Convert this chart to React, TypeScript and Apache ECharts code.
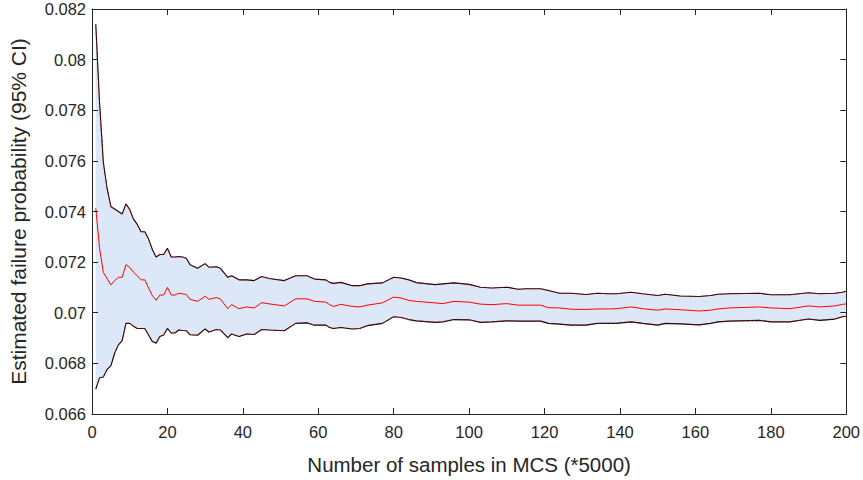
import React, { useEffect, useRef } from "react";
import * as echarts from "echarts";

const samples = [1,2,3,4,5,6,7,8,9,10,11,12,13,14,15,16,17,18,19,20,21,22,23,24,25,26,28,30,31,33,34,36,37,39,41,43,45,47,51,54,57,59,62,63,64,66,69,71,73,77,80,82,84,86,91,93,96,100,103,106,110,113,115,119,121,124,127,131,134,137,139,143,146,150,152,156,161,164,166,169,177,180,182,185,190,193,197,199,200];

const upperCI = [0.0814,0.0783,0.07595,0.07491,0.0742,0.0741,0.074,0.0739,0.0743,0.07408,0.0737,0.07349,0.0732,0.0732,0.07291,0.0725,0.0722,0.0723,0.0723,0.07255,0.0722,0.0722,0.07222,0.0722,0.07215,0.0719,0.07176,0.07194,0.0718,0.07182,0.07176,0.0714,0.07146,0.0713,0.0713,0.07127,0.07143,0.07135,0.07127,0.07146,0.07146,0.07133,0.0713,0.0712,0.07116,0.0712,0.07107,0.07107,0.07114,0.07118,0.0714,0.07137,0.0713,0.07119,0.07111,0.07114,0.07118,0.07112,0.07101,0.07098,0.07101,0.07093,0.07095,0.07095,0.07088,0.07077,0.07077,0.07072,0.07077,0.07075,0.07075,0.07081,0.07075,0.07068,0.07073,0.07066,0.07064,0.07068,0.07073,0.07075,0.07077,0.07071,0.07071,0.07071,0.07079,0.07075,0.07077,0.07081,0.07085];

const meanEst = [0.07413,0.07257,0.0716,0.07135,0.0711,0.07127,0.0714,0.0714,0.0719,0.07179,0.0716,0.07146,0.0713,0.0713,0.07098,0.07068,0.07049,0.0707,0.0707,0.071,0.0707,0.0707,0.07077,0.07075,0.07072,0.07053,0.07045,0.07065,0.07053,0.0706,0.07055,0.07016,0.07032,0.07016,0.07023,0.07019,0.0704,0.07035,0.07027,0.07055,0.07055,0.07045,0.07042,0.07032,0.07025,0.07033,0.07025,0.07023,0.0703,0.07039,0.07062,0.07058,0.07049,0.07045,0.07039,0.07036,0.07045,0.07042,0.07034,0.07032,0.07036,0.0703,0.0703,0.0703,0.0702,0.07019,0.07014,0.07013,0.07015,0.07015,0.07016,0.07023,0.07016,0.0701,0.07015,0.07012,0.07007,0.0701,0.07015,0.07019,0.07023,0.07019,0.07018,0.07016,0.07027,0.07023,0.07027,0.07033,0.07035];

const lowerCI = [0.06698,0.06743,0.06746,0.06776,0.0679,0.0684,0.06873,0.0689,0.06958,0.06958,0.06947,0.06938,0.06938,0.06938,0.06912,0.06886,0.0688,0.06906,0.06912,0.06938,0.0692,0.0692,0.06932,0.0693,0.06929,0.06913,0.06911,0.06936,0.06924,0.06934,0.06932,0.06902,0.06916,0.06906,0.06916,0.06914,0.06934,0.06932,0.06929,0.06958,0.0696,0.06951,0.06951,0.06942,0.06938,0.06942,0.06936,0.06938,0.06949,0.06958,0.06984,0.06981,0.06973,0.06968,0.06962,0.06964,0.06973,0.06972,0.06962,0.06964,0.06968,0.06967,0.06967,0.06967,0.06958,0.06955,0.06951,0.06951,0.06958,0.06958,0.06958,0.06964,0.06958,0.06951,0.06958,0.06956,0.06952,0.06958,0.06964,0.06967,0.0697,0.06964,0.06964,0.06964,0.06975,0.0697,0.06975,0.06984,0.06986];

const xTicks = { min: 0, max: 200, interval: 20 };
const yTicks = { min: 0.066, max: 0.082, interval: 0.002 };

const AXIS_COLOR = "#262626";
const FONT = "Liberation Sans, Arial, Helvetica, sans-serif";

export default function App() {
  const ref = useRef<HTMLDivElement>(null);
  useEffect(() => {
    if (!ref.current) return;
    const chart = echarts.init(ref.current, null, { renderer: "svg" });
    const pair = (arr: number[]) => samples.map((s, i) => [s, arr[i]]);
    const axisCommon = {
      z: 10,
      axisLine: { show: true, onZero: false, lineStyle: { color: AXIS_COLOR, width: 1 } },
      axisTick: { show: true, inside: true, length: 6, lineStyle: { color: AXIS_COLOR } },
      splitLine: { show: false },
    };
    chart.setOption({
      animation: false,
      backgroundColor: "#ffffff",
      grid: { left: 91, right: 15, top: 9, bottom: 66, containLabel: false },
      xAxis: [
        {
          type: "value",
          position: "bottom",
          ...xTicks,
          ...axisCommon,
          name: "Number of samples in MCS (*5000)",
          nameLocation: "middle",
          nameGap: 40,
          nameTextStyle: { fontSize: 20.5, color: AXIS_COLOR, fontFamily: FONT },
          axisLabel: { fontSize: 16.5, color: AXIS_COLOR, fontFamily: FONT, margin: 9 },
        },
        {
          type: "value",
          position: "top",
          ...xTicks,
          ...axisCommon,
          axisLabel: { show: false },
        },
      ],
      yAxis: [
        {
          type: "value",
          position: "left",
          ...yTicks,
          ...axisCommon,
          name: "Estimated failure probability (95% CI)",
          nameLocation: "middle",
          nameGap: 63,
          nameTextStyle: { fontSize: 21, color: AXIS_COLOR, fontFamily: FONT },
          axisLabel: {
            fontSize: 16.5,
            color: AXIS_COLOR,
            fontFamily: FONT,
            margin: 6,
            formatter: (v: number) => String(parseFloat(v.toFixed(3))),
          },
        },
        {
          type: "value",
          position: "right",
          ...yTicks,
          ...axisCommon,
          axisLabel: { show: false },
        },
      ],
      series: [
        {
          type: "custom",
          silent: true,
          data: samples.map((s, i) => [s, lowerCI[i], upperCI[i]]),
          encode: { x: 0, y: [1, 2] },
          renderItem: (params: any, api: any) => {
            if (params.dataIndex !== 0) return null;
            const top = samples.map((s, i) => api.coord([s, upperCI[i]]));
            const bot = samples.map((s, i) => api.coord([s, lowerCI[i]])).reverse();
            return {
              type: "polygon",
              shape: { points: top.concat(bot) },
              style: { fill: "#dce8f8", stroke: "none" },
            };
          },
          z: 1,
        },
        {
          type: "line",
          data: pair(upperCI),
          symbol: "none",
          lineStyle: { color: "#000000", width: 1.1 },
          z: 3,
        },
        {
          type: "line",
          data: pair(upperCI),
          symbol: "none",
          lineStyle: { color: "#ff0000", width: 0.6, type: [2, 2] },
          z: 4,
        },
        {
          type: "line",
          data: pair(lowerCI),
          symbol: "none",
          lineStyle: { color: "#000000", width: 1.1 },
          z: 3,
        },
        {
          type: "line",
          data: pair(lowerCI),
          symbol: "none",
          lineStyle: { color: "#ff0000", width: 0.6, type: [2, 2] },
          z: 4,
        },
        {
          type: "line",
          data: pair(meanEst),
          symbol: "none",
          lineStyle: { color: "#ff0000", width: 1 },
          z: 4,
        },
      ],
    });
    return () => chart.dispose();
  }, []);
  return <div ref={ref} style={{ width: 863, height: 480, position: "absolute", left: 0, top: 0 }} />;
}
